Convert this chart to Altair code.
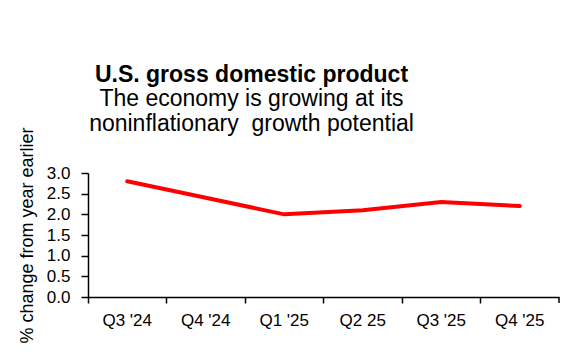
import altair as alt
import pandas as pd

quarters = ["Q3 '24", "Q4 '24", "Q1 '25", "Q2 25", "Q3 '25", "Q4 '25"]
gdp = [2.8, 2.4, 2.0, 2.1, 2.3, 2.2]
y_ticks = [0.0, 0.5, 1.0, 1.5, 2.0, 2.5, 3.0]

df = pd.DataFrame({"quarter": quarters, "gdp": gdp})
W, H = 471, 124
FONT = "Liberation Sans"

line = alt.Chart(df).mark_line(color="#ff0000", strokeWidth=4, strokeCap="round").encode(
    x=alt.X(
        "quarter:N",
        sort=quarters,
        scale=alt.Scale(type="band", paddingInner=0, paddingOuter=0),
        axis=alt.Axis(
            title=None, bandPosition=0, labelAngle=0, tickSize=6, labelPadding=9,
            labelFontSize=17, labelFont=FONT, labelColor="black",
            domainColor="black", tickColor="black", domainWidth=1.5, tickWidth=1.5,
            grid=False,
        ),
    ),
    y=alt.Y(
        "gdp:Q",
        scale=alt.Scale(domain=[0, 3], nice=False),
        axis=alt.Axis(
            title="% change from year earlier", values=y_ticks, format=".1f",
            tickSize=7, labelPadding=11, labelFontSize=17, labelFont=FONT,
            labelColor="black", titleFont=FONT, titleFontSize=18,
            titleFontWeight="normal", titleColor="black", titlePadding=10,
            domainColor="black", tickColor="black", domainWidth=1.5, tickWidth=1.5,
            grid=False,
        ),
    ),
)

end_tick = alt.Chart(pd.DataFrame({"t": [0]})).mark_rule(color="black", strokeWidth=1.5).encode(
    x=alt.value(W), y=alt.value(H), y2=alt.value(H + 6)
)

chart = alt.layer(line, end_tick).properties(
    width=W,
    height=H,
    autosize=alt.AutoSizeParams(type="none"),
    padding={"left": 80, "top": 165, "right": 13, "bottom": 55},
    title=alt.TitleParams(
        text=["U.S. gross domestic product"],
        subtitle=["The economy  is growing at its", "noninflationary\u00a0 growth potential"],
        font=FONT, fontSize=23, fontWeight="bold", color="black",
        subtitleFont=FONT, subtitleFontSize=23, subtitleColor="black",
        subtitleLineHeight=25, subtitlePadding=1,
        anchor="middle", dx=-72, dy=49, offset=40,
    ),
).configure_view(stroke="transparent")

chart.save("out.html", embed_options={"renderer": "svg", "actions": False})
